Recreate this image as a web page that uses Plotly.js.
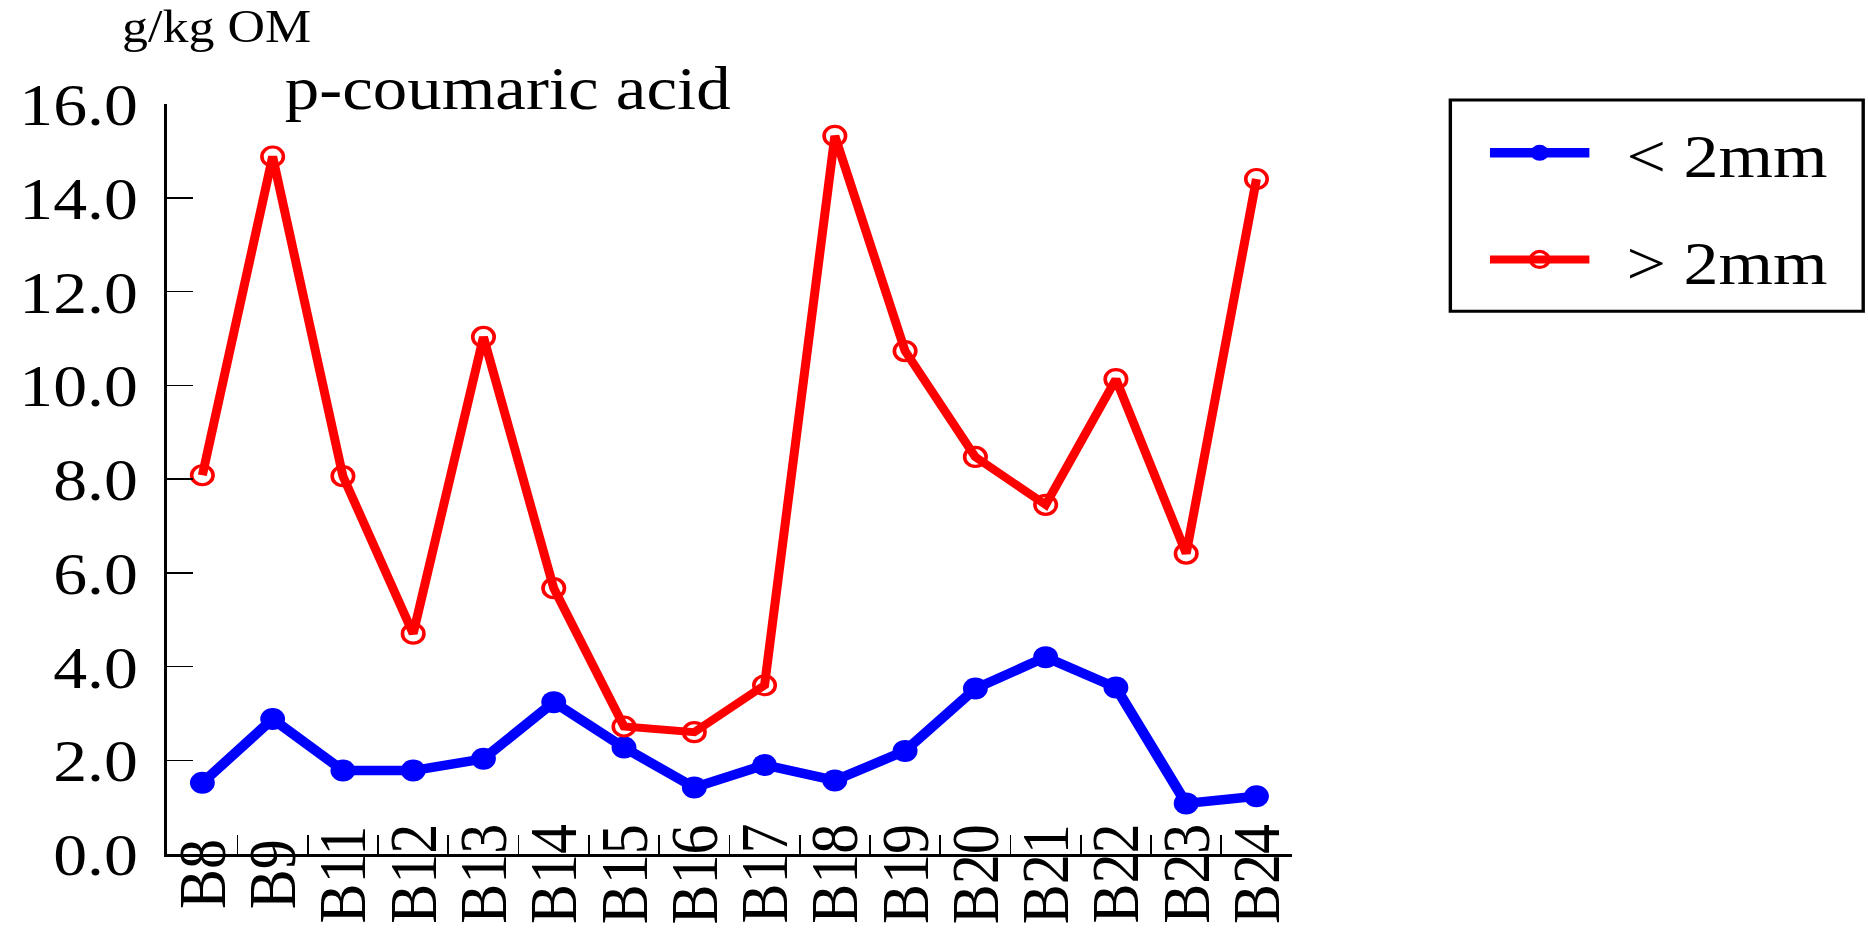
<!DOCTYPE html>
<html>
<head>
<meta charset="utf-8">
<script src="https://cdn.plot.ly/plotly-3.0.1.min.js"></script>
<style>
  html, body { margin: 0; padding: 0; background: #ffffff; overflow: hidden; width: 1868px; height: 930px; }
  /* the figure is laid out narrower and widened horizontally, giving the wide serif lettering and oval markers */
  #chart { width: 1653px; height: 930px; transform: scaleX(1.13); transform-origin: 0 0; }
</style>
</head>
<body>
<div id="chart"></div>
<script>
// Sampling sites along the x axis
const sites = ['B8', 'B9', 'B11', 'B12', 'B13', 'B14', 'B15', 'B16',
               'B17', 'B18', 'B19', 'B20', 'B21', 'B22', 'B23', 'B24'];

// p-coumaric acid content (g/kg OM), fraction < 2 mm
const fineFraction = [1.52, 2.88, 1.78, 1.78, 2.03, 3.24, 2.27, 1.42,
                      1.90, 1.57, 2.20, 3.53, 4.20, 3.55, 1.08, 1.23];

// p-coumaric acid content (g/kg OM), fraction > 2 mm
const coarseFraction = [8.08, 14.88, 8.06, 4.70, 11.03, 5.67, 2.72, 2.60,
                        3.60, 15.32, 10.73, 8.47, 7.45, 10.13, 6.41, 14.40];

// Value axis ticks
const yTickVals = [0, 2, 4, 6, 8, 10, 12, 14, 16];
const yTickText = ['0.0', '2.0', '4.0', '6.0', '8.0', '10.0', '12.0', '14.0', '16.0'];

const seriesNames = ['< 2mm', '> 2mm'];

const SERIF = "'Liberation Serif', 'Times New Roman', serif";
const SX = 1.13;                       // horizontal widening applied by CSS
const W = Math.round(1868 / SX);
const H = 930;

const traces = [
  {
    x: sites, y: fineFraction, name: '\u00a0\u2009' + seriesNames[0],
    type: 'scatter', mode: 'lines+markers', legendgroup: 'a',
    line: { color: '#0000ff', width: 9.5 },
    marker: { color: '#0000ff', size: 22, symbol: 'circle' }
  },
  {
    x: sites, y: coarseFraction, name: '\u00a0\u2009' + seriesNames[1],
    type: 'scatter', mode: 'lines+markers', legendgroup: 'b',
    line: { color: '#ff0000', width: 8 },
    marker: { color: '#ff0000', size: 19, symbol: 'circle-open', line: { width: 3.2, color: '#ff0000' } }
  }
];

// Site names, written upright along the axis and centred under each category
const siteLabels = sites.map(s => ({
  text: s, x: s, xref: 'x', y: -0.0267, yref: 'paper',
  xanchor: 'center', yanchor: 'middle', textangle: -90,
  showarrow: false, borderpad: 0,
  font: { family: SERIF, size: 60, color: '#000000' }
}));

const layout = {
  width: W, height: H,
  paper_bgcolor: '#ffffff', plot_bgcolor: '#ffffff',
  margin: { l: 148, r: W - 1143, t: 104, b: 76, pad: 0 },
  showlegend: true,
  font: { family: SERIF, color: '#000000' },
  title: {
    text: 'p-coumaric acid',
    font: { family: SERIF, size: 61, color: '#000000' },
    x: 252 / W, xref: 'container', xanchor: 'left',
    y: 1 - 88 / H, yref: 'container', yanchor: 'middle'
  },
  xaxis: {
    type: 'category', categoryorder: 'array', categoryarray: sites,
    range: [-0.5, 15.5], fixedrange: true,
    showticklabels: false,
    showline: true, linecolor: '#000000', linewidth: 3,
    showgrid: false, zeroline: false,
    ticks: 'inside', ticklen: 19, tickwidth: 1.5, tickcolor: '#000000',
    tickson: 'boundaries',
    automargin: false
  },
  yaxis: {
    range: [0, 16], fixedrange: true,
    tickmode: 'array', tickvals: yTickVals, ticktext: yTickText,
    showline: true, linecolor: '#000000', linewidth: 3,
    showgrid: false, zeroline: false,
    ticks: 'inside', ticklen: 23, tickwidth: 1.5, tickcolor: '#000000',
    ticklabelstandoff: 11,
    tickfont: { family: SERIF, size: 60, color: '#000000' },
    automargin: false
  },
  legend: {
    x: 1.1714, xref: 'paper', xanchor: 'left',
    y: 0.9973, yref: 'paper', yanchor: 'top',
    bgcolor: 'rgba(0,0,0,0)', borderwidth: 0,
    traceorder: 'grouped', tracegroupgap: 23,
    itemwidth: 88,
    font: { family: SERIF, size: 62, color: '#000000' }
  },
  shapes: [
    {
      type: 'rect', xref: 'paper', yref: 'paper',
      x0: 1.1412, x1: 1.5084, y0: 0.7236, y1: 1.0053,
      line: { color: '#000000', width: 3 }, fillcolor: 'rgba(0,0,0,0)'
    }
  ],
  annotations: [
    {
      text: 'g/kg OM', xref: 'paper', yref: 'paper',
      x: -0.0427, xanchor: 'left', y: 1.103, yanchor: 'middle',
      showarrow: false,
      font: { family: SERIF, size: 46, color: '#000000' }
    }
  ].concat(siteLabels)
};

Plotly.newPlot('chart', traces, layout, { displayModeBar: false, staticPlot: true });
</script>
</body>
</html>
